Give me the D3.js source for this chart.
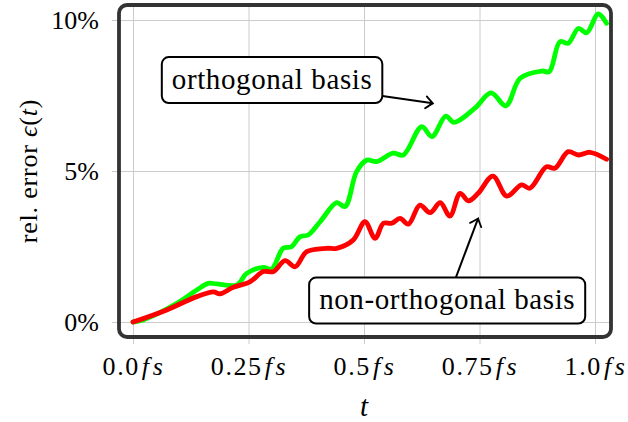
<!DOCTYPE html>
<html>
<head>
<meta charset="utf-8">
<script src="https://cdn.jsdelivr.net/npm/d3@7"></script>
<style>
  body { margin: 0; background: #fff; }
  text { font-family: "Liberation Serif", "DejaVu Serif", serif; fill: #000; }
</style>
</head>
<body>
<svg id="chart" width="628" height="422"></svg>
<script>
// time in fs, error in %
const orthT   = [0, 0.022, 0.095, 0.138, 0.163, 0.181, 0.225, 0.246, 0.282, 0.300, 0.325, 0.343, 0.361, 0.379, 0.405, 0.441, 0.459, 0.484, 0.506, 0.527, 0.563, 0.585, 0.625, 0.647, 0.677, 0.695, 0.740, 0.775, 0.807, 0.838, 0.885, 0.901, 0.924, 0.942, 0.964, 0.982, 1.007, 1.025];
const orthErr = [0, 0.07, 0.62, 1.06, 1.28, 1.26, 1.23, 1.61, 1.81, 1.75, 2.44, 2.49, 2.82, 2.88, 3.32, 3.95, 3.82, 4.98, 5.36, 5.31, 5.59, 5.53, 6.47, 6.14, 6.82, 6.61, 7.08, 7.59, 7.16, 8.07, 8.31, 8.29, 9.28, 9.23, 9.72, 9.58, 10.2, 9.89];

const nonOrthT   = [0, 0.073, 0.138, 0.174, 0.188, 0.217, 0.253, 0.282, 0.304, 0.329, 0.351, 0.376, 0.419, 0.441, 0.477, 0.502, 0.524, 0.542, 0.560, 0.578, 0.596, 0.621, 0.643, 0.665, 0.686, 0.708, 0.726, 0.747, 0.779, 0.809, 0.841, 0.859, 0.895, 0.913, 0.942, 0.964, 0.989, 1.025];
const nonOrthErr = [0, 0.40, 0.84, 1.00, 0.93, 1.15, 1.33, 1.67, 1.67, 2.03, 1.83, 2.33, 2.44, 2.44, 2.72, 3.32, 2.77, 3.27, 3.27, 3.43, 3.24, 3.87, 3.62, 3.95, 3.51, 4.26, 4.01, 4.26, 4.83, 4.17, 4.54, 4.43, 5.14, 5.09, 5.64, 5.53, 5.62, 5.39];

const xTicks = [0, 0.25, 0.5, 0.75, 1.0];
const xTickLabels = ["0.0", "0.25", "0.5", "0.75", "1.0"];
const yTicks = [0, 5, 10];
const yTickLabels = ["0%", "5%", "10%"];

// annotation: label, box centre (t, err), arrow tip (t, err)
const notes = [
  {label: "orthogonal basis", t: 0.301, e: 8.01, tipT: 0.649, tipE: 7.24},
  {label: "non-orthogonal basis", t: 0.680, e: 0.71, tipT: 0.747, tipE: 3.43}
];

const svg = d3.select("#chart");
const frame = {left: 119, right: 611, top: 5, bottom: 337};

const x = d3.scaleLinear().domain([-0.0303, 1.0346]).range([frame.left, frame.right]);
const y = d3.scaleLinear().domain([-0.497, 10.497]).range([frame.bottom, frame.top]);

// grid + ticks via axes
const gx = svg.append("g")
    .attr("transform", "translate(0," + (frame.bottom + 7) + ")")
    .call(d3.axisBottom(x).tickValues(xTicks)
        .tickSizeInner(-(frame.bottom + 7 - frame.top)).tickSizeOuter(0)
        .tickFormat((d, i) => xTickLabels[i]));
gx.attr("font-family", null);
gx.select(".domain").remove();
gx.selectAll(".tick line").attr("stroke", "#cccccc").attr("stroke-width", 1);
gx.selectAll(".tick text")
    .attr("font-size", 26)
    .attr("letter-spacing", 1.6)
    .attr("y", 31).attr("dy", null)
    .each(function(d, i) {
      const t = d3.select(this);
      t.text(null);
      t.append("tspan").text(xTickLabels[i]);
      t.append("tspan").attr("font-style", "italic").attr("dx", 2).text("f");
      t.append("tspan").attr("font-style", "italic").attr("dx", 2).text("s");
    });

const gy = svg.append("g")
    .attr("transform", "translate(" + (frame.left - 7) + ",0)")
    .call(d3.axisLeft(y).tickValues(yTicks)
        .tickSizeInner(-(frame.right - frame.left + 7)).tickSizeOuter(0).tickPadding(13)
        .tickFormat((d, i) => yTickLabels[i]));
gy.attr("font-family", null);
gy.select(".domain").remove();
gy.selectAll(".tick line").attr("stroke", "#cccccc").attr("stroke-width", 1);
gy.selectAll(".tick text").attr("font-size", 26).attr("dy", "0.34em");

// lines
svg.append("clipPath").attr("id", "clip")
  .append("rect")
    .attr("x", frame.left).attr("y", frame.top)
    .attr("width", frame.right - frame.left).attr("height", frame.bottom - frame.top)
    .attr("rx", 8);

const line = d3.line()
    .x(d => x(d[0]))
    .y(d => y(d[1]))
    .curve(d3.curveCatmullRom.alpha(0.5));

const plot = svg.append("g").attr("clip-path", "url(#clip)");
plot.append("path")
    .datum(orthT.map((t, i) => [t, orthErr[i]]))
    .attr("fill", "none").attr("stroke", "#00ff00").attr("stroke-width", 4.8)
    .attr("stroke-linejoin", "round").attr("stroke-linecap", "round")
    .attr("d", line);
plot.append("path")
    .datum(nonOrthT.map((t, i) => [t, nonOrthErr[i]]))
    .attr("fill", "none").attr("stroke", "#ff0000").attr("stroke-width", 4.8)
    .attr("stroke-linejoin", "round").attr("stroke-linecap", "round")
    .attr("d", line);

// frame
svg.append("rect")
    .attr("x", frame.left).attr("y", frame.top)
    .attr("width", frame.right - frame.left).attr("height", frame.bottom - frame.top)
    .attr("rx", 8)
    .attr("fill", "none").attr("stroke", "#333333").attr("stroke-width", 3.8);

// arrow heads
svg.append("defs").append("marker")
    .attr("id", "head")
    .attr("viewBox", "-10 -8 12 16")
    .attr("markerWidth", 12).attr("markerHeight", 16)
    .attr("markerUnits", "userSpaceOnUse")
    .attr("refX", 0).attr("refY", 0)
    .attr("orient", "auto")
  .append("path")
    .attr("d", "M-7,-6 Q-2,-1.5 0,0 Q-2,1.5 -7,6")
    .attr("fill", "none").attr("stroke", "#000").attr("stroke-width", 1.8)
    .attr("stroke-linecap", "round");

// annotations
notes.forEach(n => {
  const g = svg.append("g");
  const cx = x(n.t), cy = y(n.e);
  const txt = g.append("text")
      .attr("x", cx).attr("y", cy)
      .attr("text-anchor", "middle").attr("dy", "0.3em")
      .attr("font-size", 29)
      .attr("letter-spacing", 0.6)
      .text(n.label);
  const bb = txt.node().getBBox();
  const padX = 10, h = 46;
  const bx = bb.x - padX, bw = bb.width + 2 * padX, by = cy - h / 2;
  g.insert("rect", "text")
      .attr("x", bx).attr("y", by).attr("width", bw).attr("height", h)
      .attr("rx", 7)
      .attr("fill", "#fff").attr("stroke", "#000").attr("stroke-width", 2);
  // arrow starts where the box edge meets the line to the tip
  const tx = x(n.tipT), ty = y(n.tipE);
  const dx = tx - cx, dy = ty - cy;
  const kx = (bw / 2) / Math.abs(dx || 1e-9), ky = (h / 2) / Math.abs(dy || 1e-9);
  const k = Math.min(kx, ky);
  g.append("line")
      .attr("x1", cx + dx * k).attr("y1", cy + dy * k).attr("x2", tx).attr("y2", ty)
      .attr("stroke", "#000").attr("stroke-width", 2)
      .attr("marker-end", "url(#head)");
});

// axis titles
svg.append("text")
    .attr("x", x(0.5)).attr("y", 416)
    .attr("text-anchor", "middle")
    .attr("font-size", 29).attr("font-style", "italic")
    .text("t");

const yl = svg.append("text")
    .attr("transform", "translate(37," + y(5.0) + ") rotate(-90)")
    .attr("text-anchor", "middle")
    .attr("font-size", 26)
    .attr("letter-spacing", 0.8);
yl.append("tspan").text("rel. error ");
yl.append("tspan").attr("font-style", "italic").text("ϵ");
yl.append("tspan").text("(");
yl.append("tspan").attr("font-style", "italic").text("t");
yl.append("tspan").text(")");
</script>
</body>
</html>
